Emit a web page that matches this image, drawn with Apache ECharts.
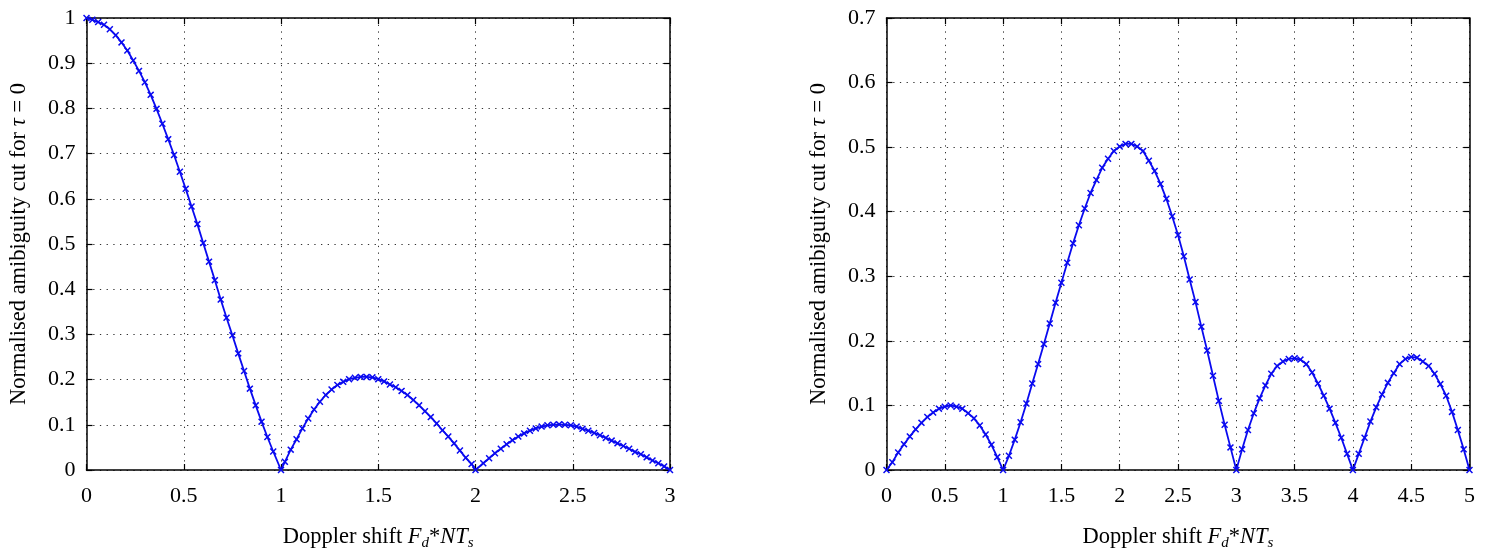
<!DOCTYPE html>
<html><head><meta charset="utf-8">
<script src="https://cdn.jsdelivr.net/npm/echarts@6/dist/echarts.min.js"></script>
<style>html,body{margin:0;padding:0;background:#fff}#c{width:1491px;height:556px}</style>
</head><body><div id="c"></div>
<script>
// Left panel: Doppler shift vs normalised ambiguity cut
const leftX = [0,0.03,0.06,0.09,0.12,0.15,0.18,0.21,0.24,0.27,0.3,0.33,0.36,0.39,0.42,0.45,0.48,0.51,0.54,0.57,0.6,0.63,0.66,0.69,0.72,0.75,0.78,0.81,0.84,0.87,0.9,0.93,0.96,1.0,
  1.02,1.05,1.08,1.11,1.14,1.17,1.2,1.23,1.26,1.29,1.32,1.35,1.38,1.41,1.44,1.47,1.5,1.53,1.56,1.59,1.62,1.65,1.68,1.71,1.74,1.77,1.8,1.83,1.86,1.89,1.92,1.95,1.98,
  2.0,2.04,2.07,2.1,2.13,2.16,2.19,2.22,2.25,2.28,2.31,2.34,2.37,2.4,2.43,2.46,2.49,2.52,2.55,2.58,2.61,2.64,2.67,2.7,2.73,2.76,2.79,2.82,2.85,2.88,2.91,2.94,2.97,3.0];
const leftY = [1.000,0.996,0.991,0.985,0.975,0.962,0.946,0.928,0.906,0.883,0.858,0.830,0.799,0.766,0.732,0.697,0.660,0.622,0.583,0.544,0.502,0.461,0.420,0.377,0.337,0.298,0.258,0.219,0.180,0.143,0.107,0.073,0.041,0.000,
  0.018,0.045,0.068,0.092,0.114,0.134,0.151,0.166,0.178,0.188,0.195,0.201,0.204,0.206,0.206,0.205,0.201,0.196,0.189,0.183,0.175,0.166,0.155,0.143,0.130,0.117,0.103,0.088,0.074,0.059,0.043,0.027,0.013,
  0.000,0.015,0.026,0.037,0.047,0.057,0.066,0.074,0.081,0.087,0.092,0.096,0.099,0.100,0.101,0.100,0.099,0.096,0.091,0.087,0.082,0.077,0.071,0.065,0.059,0.053,0.047,0.040,0.035,0.028,0.021,0.015,0.008,0.000];

// Right panel
const rightX = [0,0.05,0.1,0.15,0.2,0.25,0.3,0.35,0.4,0.45,0.5,0.55,0.6,0.65,0.7,0.75,0.8,0.85,0.9,0.95,
  1.0,1.05,1.1,1.15,1.2,1.25,1.3,1.35,1.4,1.45,1.5,1.55,1.6,1.65,1.7,1.75,1.8,1.85,1.9,1.95,
  2.0,2.05,2.1,2.15,2.2,2.25,2.3,2.35,2.4,2.45,2.5,2.55,2.6,2.65,2.7,2.75,2.8,2.85,2.9,2.95,
  3.0,3.05,3.1,3.15,3.2,3.25,3.3,3.35,3.4,3.45,3.5,3.55,3.6,3.65,3.7,3.75,3.8,3.85,3.9,3.95,
  4.0,4.05,4.1,4.15,4.2,4.25,4.3,4.35,4.4,4.45,4.5,4.55,4.6,4.65,4.7,4.75,4.8,4.85,4.9,4.95,5.0];
const rightY = [0,0.012,0.027,0.040,0.052,0.063,0.073,0.082,0.089,0.095,0.098,0.100,0.098,0.095,0.088,0.080,0.069,0.055,0.039,0.020,
  0,0.022,0.047,0.074,0.103,0.134,0.164,0.195,0.227,0.259,0.290,0.321,0.351,0.379,0.405,0.429,0.449,0.468,0.482,0.494,
  0.501,0.505,0.505,0.501,0.494,0.479,0.463,0.443,0.420,0.393,0.364,0.331,0.295,0.260,0.222,0.185,0.146,0.107,0.070,0.035,
  0,0.032,0.062,0.088,0.111,0.131,0.149,0.161,0.168,0.172,0.173,0.171,0.164,0.151,0.134,0.115,0.095,0.073,0.050,0.025,
  0,0.025,0.050,0.075,0.097,0.117,0.135,0.150,0.164,0.172,0.175,0.174,0.168,0.161,0.149,0.133,0.115,0.090,0.062,0.032,0];

const leftXRange = [0, 3, 0.5];
const leftYRange = [0, 1, 0.1];
const rightXRange = [0, 5, 0.5];
const rightYRange = [0, 0.7, 0.1];

const xTitle = '{n|Doppler shift }{i|F}{sub|d}{n|*}{i|NT}{sub|s}';
const yTitle = '{n|Normalised amibiguity cut for }{i|τ}{n| = 0}';

const FONT = '"Liberation Serif", "DejaVu Serif", serif';
const BLUE = '#0a0af0';
const XMARK = 'path://M0,1.5 L1.5,0 L5,3.5 L8.5,0 L10,1.5 L6.5,5 L10,8.5 L8.5,10 L5,6.5 L1.5,10 L0,8.5 L3.5,5 Z';

const TS = 22.5;
const richX = {
  n: {fontFamily: FONT, fontSize: TS, color: '#000', verticalAlign: 'middle', lineHeight: 28},
  i: {fontFamily: FONT, fontSize: TS, fontStyle: 'italic', color: '#000', verticalAlign: 'middle', lineHeight: 28},
  sub: {fontFamily: FONT, fontSize: 15, fontStyle: 'italic', color: '#000', verticalAlign: 'bottom', lineHeight: 28}
};
const richY = {
  n: {fontFamily: FONT, fontSize: TS, color: '#000'},
  i: {fontFamily: FONT, fontSize: TS, fontStyle: 'italic', color: '#000'}
};

const splitStyle = {show: true, lineStyle: {color: '#333', width: 1, type: [1.3, 5.4]}};
const axisLineStyle = {show: true, onZero: false, lineStyle: {color: '#000', width: 1.5}};
const tickStyle = {show: true, inside: true, length: 6, lineStyle: {color: '#000', width: 1.2}};
const labelStyle = {fontFamily: FONT, fontSize: 22, color: '#000'};

function xAxes(gi, r) {
  return [
    {type: 'value', gridIndex: gi, position: 'bottom', min: r[0], max: r[1], interval: r[2],
     axisLine: axisLineStyle, axisTick: tickStyle, splitLine: splitStyle,
     axisLabel: Object.assign({margin: 15}, labelStyle),
     name: xTitle, nameLocation: 'middle', nameGap: 53, nameTextStyle: {rich: richX}},
    {type: 'value', gridIndex: gi, position: 'top', min: r[0], max: r[1], interval: r[2],
     axisLine: axisLineStyle, axisTick: tickStyle, splitLine: {show: false}, axisLabel: {show: false}}
  ];
}
function yAxes(gi, r, gap) {
  return [
    {type: 'value', gridIndex: gi, position: 'left', min: r[0], max: r[1], interval: r[2],
     axisLine: axisLineStyle, axisTick: tickStyle, splitLine: splitStyle,
     axisLabel: Object.assign({margin: 11}, labelStyle),
     name: yTitle, nameLocation: 'middle', nameGap: gap, nameRotate: 90, nameTextStyle: {rich: richY}},
    {type: 'value', gridIndex: gi, position: 'right', min: r[0], max: r[1], interval: r[2],
     axisLine: axisLineStyle, axisTick: tickStyle, splitLine: {show: false}, axisLabel: {show: false}}
  ];
}

function series(xi, yi, xs, ys) {
  return {
    type: 'line', xAxisIndex: xi, yAxisIndex: yi,
    data: xs.map((x, k) => [x, ys[k]]),
    symbol: XMARK, symbolSize: 7, showAllSymbol: true,
    lineStyle: {color: BLUE, width: 1.8},
    itemStyle: {color: BLUE},
    clip: false
  };
}

const chart = echarts.init(document.getElementById('c'), null, {renderer: 'canvas'});
chart.setOption({
  animation: false,
  backgroundColor: '#fff',
  grid: [
    {left: 86.5, top: 18, width: 583.5, height: 460},
    {left: 886.5, top: 18, width: 583, height: 459}
  ],
  xAxis: [...xAxes(0, leftXRange), ...xAxes(1, rightXRange)],
  yAxis: [...yAxes(0, leftYRange, 56), ...yAxes(1, rightYRange, 56)],
  series: [
    series(0, 0, leftX, leftY),
    series(2, 2, rightX, rightY)
  ]
});
</script>
</body></html>
